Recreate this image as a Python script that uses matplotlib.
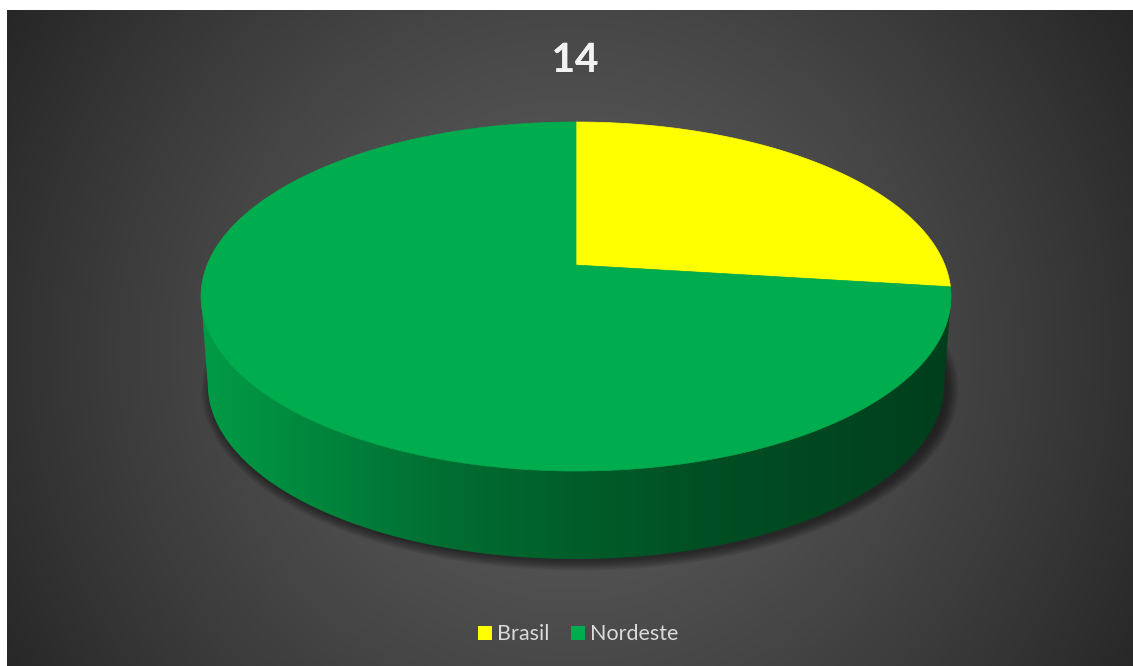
import numpy as np
import matplotlib
matplotlib.use("Agg")
import matplotlib.pyplot as plt
import matplotlib.patheffects as pe
from matplotlib.patches import Polygon, Rectangle, Ellipse

title = "14"
labels = ["Brasil", "Nordeste"]
values = [27, 73]
colors = ["#FFFF00", "#00AD4E"]

W, H = 1133, 666
fig = plt.figure(figsize=(W / 100, H / 100), dpi=100)
fig.patch.set_facecolor("white")
ax = fig.add_axes([0, 0, 1, 1])
ax.axis("off")

# dark radial background
x0, y0 = 7, 10
yy, xx = np.mgrid[y0:H, x0:W]
r = np.hypot(xx - 570, yy - 350) / 640
b = np.clip(92 - 52 * r ** 1.4, 38, 92) / 255
ax.imshow(np.dstack([b, b, b]), extent=(x0, W, H, y0), origin="upper", aspect="auto", zorder=0)

# pie geometry (screen px): top ellipse + perspective factor k
cx, cy, rx, ry, k, depth = 576, 296.5, 375, 174.5, 0.18, 88
c = np.sqrt(1 - k * k)


def proj(t):
    t = np.radians(t)
    u, v = np.cos(t), np.sin(t)
    d = 1 + k * v
    return cx + rx * c * u / d, cy - ry * (v + k) / d


def lower(x, y):
    return cx + (x - cx) * 0.982, y + depth


# soft shadow under the pie
for i in range(8):
    ax.add_patch(Ellipse((cx + 4, cy + depth + 5), 2 * (368 + i * 1.5), 2 * (172 + i * 1.3),
                         facecolor="black", edgecolor="none", alpha=0.07, zorder=1))

frac = np.array(values, float) / sum(values)
ends = 90 - 360 * np.cumsum(frac)
starts = np.concatenate([[90], ends[:-1]])
front = (180 + np.degrees(np.arcsin(k)), 360 - np.degrees(np.arcsin(k)))
shade_f = [0, 0.33, 0.66, 1]
shade_v = [0.9, 0.63, 0.46, 0.36]
left, right = proj(front[0])[0], proj(front[1])[0]

for s, e, col in zip(starts, ends, colors):
    # side wall (only the front-facing part)
    for off in (-360, 0, 360):
        lo, hi = max(e + off, front[0]), min(s + off, front[1])
        if hi <= lo:
            continue
        t = np.linspace(lo, hi, 200)
        tx, ty = proj(t)
        bx, by = lower(tx, ty)
        pts = np.column_stack([np.concatenate([tx, bx[::-1]]), np.concatenate([ty, by[::-1]])])
        poly = Polygon(pts, closed=True, facecolor="none", edgecolor="none", zorder=2)
        ax.add_patch(poly)
        base = np.array(matplotlib.colors.to_rgb(col))
        gx = np.linspace(left, right, 400)
        sh = np.interp((gx - left) / (right - left), shade_f, shade_v)
        grad = (sh[:, None] * base[None, :])[None, :, :]
        im = ax.imshow(grad, extent=(left, right, ty.max() + depth + 5, ty.min() - 5),
                       origin="upper", aspect="auto", zorder=2)
        im.set_clip_path(poly)

for s, e, col in zip(starts, ends, colors):
    t = np.linspace(s, e, 300)
    tx, ty = proj(t)
    ax.add_patch(Polygon(np.column_stack([np.r_[cx, tx], np.r_[cy - ry * k, ty]]), closed=True,
                         facecolor=col, edgecolor=col, linewidth=0.5, zorder=3))

ax.text(575, 72, title, ha="center", va="baseline", fontsize=29, fontweight="bold",
        family="Lato", color="#F2F2F2", zorder=5,
        path_effects=[pe.withSimplePatchShadow(offset=(1.5, -1.5), alpha=0.55), pe.Normal()])

# legend
for lx, lab, col in zip([478, 571], labels, colors):
    ax.add_patch(Rectangle((lx, 626), 14, 14, facecolor=col, edgecolor="none", zorder=5))
    ax.text(lx + 19, 640, lab, ha="left", va="baseline", fontsize=15.5, family="Lato",
            color="#DADADA", zorder=5)

ax.set_xlim(0, W)
ax.set_ylim(H, 0)
fig.savefig("out.png", dpi=100, facecolor=fig.get_facecolor())
